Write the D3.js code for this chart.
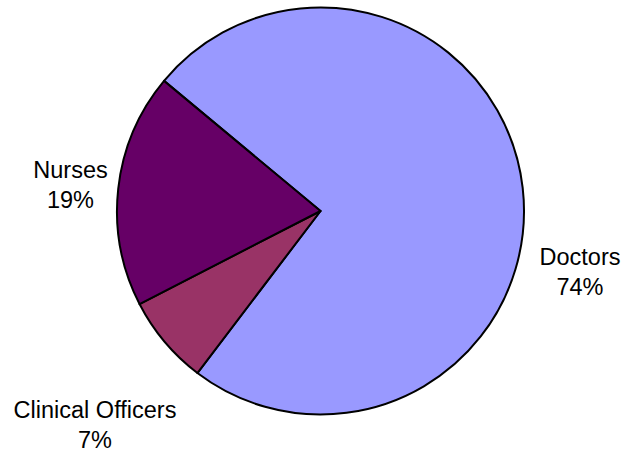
<!DOCTYPE html>
<html><head><meta charset="utf-8">
<script src="https://cdn.jsdelivr.net/npm/d3@7"></script>
<style>html,body{margin:0;padding:0;background:#fff;}svg{display:block;}</style>
</head><body>
<svg id="c" width="623" height="451"></svg>
<script>
const categories = ["Doctors", "Clinical Officers", "Nurses"];
const values = [74.3, 7.1, 18.6];
const percentLabels = ["74%", "7%", "19%"];
const colors = ["#9999FF", "#993366", "#660066"];

const svg = d3.select("#c");
const cx = 320.5, cy = 211, r = 203.5;
const start = -50.25 * Math.PI / 180;

const pie = d3.pie().sort(null).value(d => d.v)
  .startAngle(start).endAngle(start + 2 * Math.PI);
const data = categories.map((c, i) => ({c, v: values[i], p: percentLabels[i], col: colors[i]}));
const arcs = pie(data);
const arc = d3.arc().innerRadius(0).outerRadius(r);

const g = svg.append("g").attr("transform", `translate(${cx},${cy})`);
g.selectAll("path").data(arcs).join("path")
  .attr("d", arc)
  .attr("fill", d => d.data.col)
  .attr("stroke", "#000")
  .attr("stroke-width", 2)
  .attr("stroke-linejoin", "round");

const labelPos = {"Doctors": [580, 264.5], "Clinical Officers": [95, 417.5], "Nurses": [70.5, 178]};
const lineH = 30;
const txt = svg.append("g").attr("font-family", "'Liberation Sans', Arial, sans-serif")
  .attr("font-size", 23.5).attr("fill", "#000").attr("text-anchor", "middle");
data.forEach(d => {
  const [x, y] = labelPos[d.c];
  const t = txt.append("text").attr("x", x).attr("y", y);
  t.append("tspan").attr("x", x).attr("dy", 0).text(d.c);
  t.append("tspan").attr("x", x).attr("dy", lineH).text(d.p);
});
</script>
</body></html>
